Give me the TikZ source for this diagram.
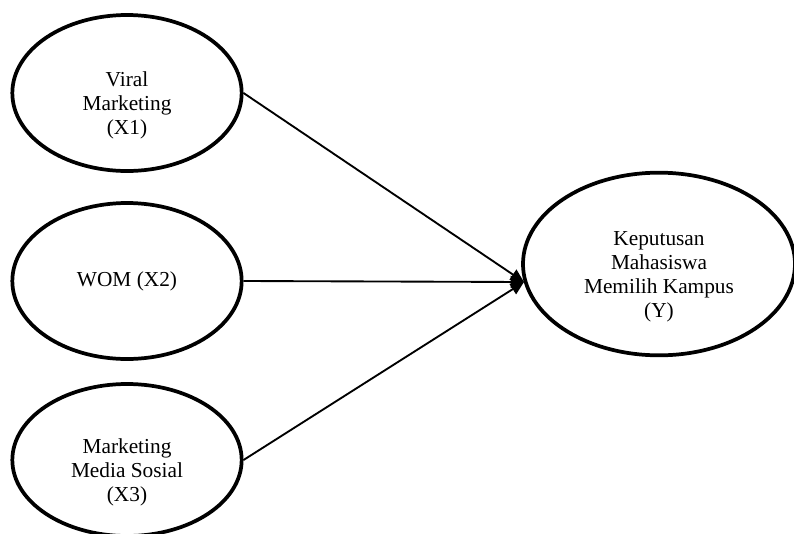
\documentclass[tikz,border=0pt]{standalone}
\usepackage{fontspec}
\setmainfont{Liberation Serif}
\usetikzlibrary{arrows.meta,shapes.geometric,positioning}
\tikzset{
  var/.style={draw,ellipse,line width=2.8pt,inner sep=0pt,align=center,
    font=\fontsize{16}{18}\selectfont},
  path/.style={line width=1.4pt,-{Triangle[length=10pt,width=9pt]}}
}

\begin{document}
\begin{tikzpicture}[x=0.75pt,y=-0.75pt,>=Stealth]
  \useasboundingbox (0,0) rectangle (794,533);
  \node[var,minimum width=172pt,minimum height=117pt,text height=66pt,text depth=3.5pt] (x1) at (127,93) {Viral\\Marketing\\(X1)};
  \node[var,minimum width=172pt,minimum height=117pt] (x2) at (127,281) {WOM (X2)};
  \node[var,minimum width=172pt,minimum height=114pt,text height=66pt,text depth=3.5pt] (x3) at (127,460) {Marketing\\Media Sosial\\(X3)};
  \node[var,minimum width=204pt,minimum height=137pt,text height=84pt,text depth=3.5pt] (y) at (659,264) {Keputusan\\Mahasiswa\\Memilih Kampus\\(Y)};
  \coordinate (tip) at (524,282);

  \draw[path] (x1.east) -- (tip);
  \draw[path] (x2.east) -- (tip);
  \draw[path] (x3.east) -- (tip);
\end{tikzpicture}
\end{document}
